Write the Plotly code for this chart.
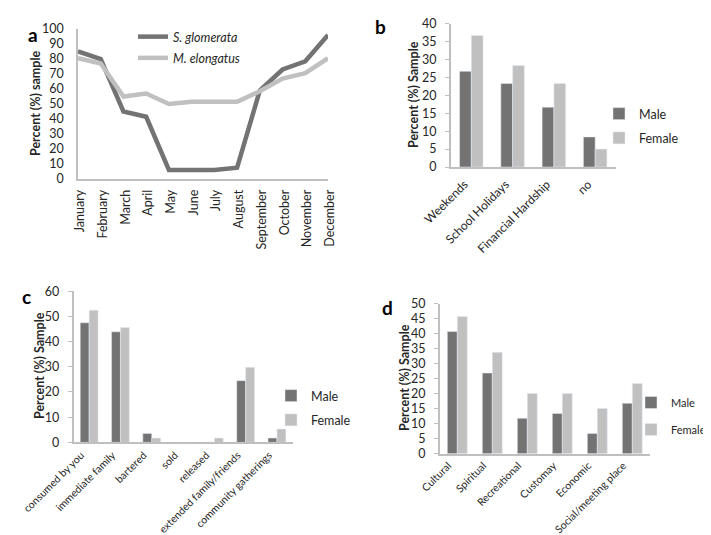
import plotly.graph_objects as go

W, H = 711, 535

# ---- data ----
months = ["January", "February", "March", "April", "May", "June", "July",
          "August", "September", "October", "November", "December"]
s_glomerata = [85, 80, 45, 41.5, 6, 6, 6, 7.5, 59, 73, 78.5, 96]
m_elongatus = [80.5, 77, 55, 57, 50, 51.5, 51.5, 51.5, 58.5, 67, 70.5, 80.5]

b_cats = ["Weekends", "School Holidays", "Financial Hardship", "no"]
b_male = [26.7, 23.3, 16.7, 8.4]
b_female = [36.7, 28.3, 23.3, 5.0]

c_cats = ["consumed by you", "immediate family", "bartered", "sold", "released",
          "extended family/friends", "community gatherings"]
c_male = [47.5, 43.9, 3.5, 0, 0, 24.5, 1.7]
c_female = [52.5, 45.6, 1.7, 0, 1.7, 29.8, 5.3]

d_cats = ["Cultural", "Spiritual", "Recreational", "Customay", "Economic",
          "Social/meeting place"]
d_male = [40.7, 26.9, 11.8, 13.4, 6.7, 16.8]
d_female = [45.7, 33.8, 20.1, 20.1, 15.1, 23.4]

DARK = "#737373"
LIGHT = "#c0c0c0"
AXIS = "#bfbfbf"
TXT = "#262626"
FONT = "Lato"


def px_x(a, b):
    return [a / W, b / W]


def px_y(top, bottom):
    return [1 - bottom / H, 1 - top / H]


fig = go.Figure()

# panel a lines
fig.add_trace(go.Scatter(x=months, y=s_glomerata, mode="lines", name="<i>S. glomerata</i>",
                         line=dict(color=DARK, width=4.5), xaxis="x", yaxis="y",
                         legend="legend", legendgroup="a1"))
fig.add_trace(go.Scatter(x=months, y=m_elongatus, mode="lines", name="<i>M. elongatus</i>",
                         line=dict(color=LIGHT, width=4.5), xaxis="x", yaxis="y",
                         legend="legend", legendgroup="a2"))

# panel b
fig.add_trace(go.Bar(x=b_cats, y=b_male, name="Male", marker_color=DARK, xaxis="x2", yaxis="y2",
                     legend="legend2", legendgroup="b1"))
fig.add_trace(go.Bar(x=b_cats, y=b_female, name="Female", marker_color=LIGHT, xaxis="x2", yaxis="y2",
                     legend="legend2", legendgroup="b2"))
# panel c
fig.add_trace(go.Bar(x=c_cats, y=c_male, name="Male", marker_color=DARK, xaxis="x3", yaxis="y3",
                     legend="legend3", legendgroup="c1"))
fig.add_trace(go.Bar(x=c_cats, y=c_female, name="Female", marker_color=LIGHT, xaxis="x3", yaxis="y3",
                     legend="legend3", legendgroup="c2"))
# panel d
fig.add_trace(go.Bar(x=d_cats, y=d_male, name="Male", marker_color=DARK, xaxis="x4", yaxis="y4",
                     legend="legend4", legendgroup="d1"))
fig.add_trace(go.Bar(x=d_cats, y=d_female, name="Female", marker_color=LIGHT, xaxis="x4", yaxis="y4",
                     legend="legend4", legendgroup="d2"))

ytickfont = dict(family=FONT, size=12.5, color=TXT)


def xax(dom, anchor, angle, size, shift, standoff):
    return dict(domain=dom, anchor=anchor, showline=True, linecolor=AXIS, linewidth=1.5,
                showgrid=False, zeroline=False, ticks="", tickangle=angle,
                ticklabelstandoff=standoff, ticklabelshift=shift, automargin=False,
                tickfont=dict(family=FONT, size=size, color=TXT), type="category",
                fixedrange=True)


def yax(dom, anchor, rng, dtick, ticks):
    return dict(domain=dom, anchor=anchor, range=rng, dtick=dtick, showline=True,
                linecolor=AXIS, linewidth=1.5, showgrid=False, zeroline=False,
                ticks=ticks, ticklen=4, tickcolor=AXIS, tickwidth=1,
                ticklabelstandoff=6 if ticks else 10, automargin=False,
                tickfont=ytickfont, fixedrange=True)


leg_font = dict(family=FONT, size=12.5, color=TXT)

fig.update_layout(
    width=W, height=H, margin=dict(l=0, r=0, t=0, b=0, autoexpand=False),
    paper_bgcolor="white", plot_bgcolor="white",
    font=dict(family=FONT, color=TXT),
    barmode="group", bargap=0.43, bargroupgap=0,
    xaxis=xax(px_x(70, 320), "y", -90, 12.5, 2, 4),
    yaxis=yax(px_y(21, 171), "x", [0, 100], 10, ""),
    xaxis2=xax(px_x(442.7, 607.8), "y2", -45, 12, -7, 4),
    yaxis2=yax(px_y(15.7, 159), "x2", [0, 40], 5, "outside"),
    xaxis3=xax(px_x(65.5, 284.6), "y3", -45, 10.5, -8, 1),
    yaxis3=yax(px_y(283.3, 434.3), "x3", [0, 60], 10, "outside"),
    xaxis4=xax(px_x(431.8, 641.8), "y4", -45, 10.5, -9, 0),
    yaxis4=yax(px_y(295.7, 445.7), "x4", [0, 50], 5, "outside"),
    legend=dict(x=125 / W, y=1 - 14 / H, xanchor="left", yanchor="top", bgcolor="rgba(0,0,0,0)",
                font=leg_font, traceorder="grouped", tracegroupgap=2, itemwidth=30),
    legend2=dict(x=591 / W, y=1 - 91 / H, xanchor="left", yanchor="top", bgcolor="rgba(0,0,0,0)",
                 font=leg_font, traceorder="grouped", tracegroupgap=5, itemwidth=30),
    legend3=dict(x=263 / W, y=1 - 373 / H, xanchor="left", yanchor="top", bgcolor="rgba(0,0,0,0)",
                 font=leg_font, traceorder="grouped", tracegroupgap=5, itemwidth=30),
    legend4=dict(x=623 / W, y=1 - 380 / H, xanchor="left", yanchor="top", bgcolor="rgba(0,0,0,0)",
                 font=dict(family=FONT, size=11, color=TXT), traceorder="grouped",
                 tracegroupgap=8, itemwidth=30),
)

ann = []
for lab, x, y in [("a", 25, 26), ("b", 372, 19), ("c", 18, 288), ("d", 379, 299)]:
    ann.append(dict(text="<b>%s</b>" % lab, x=x / W, y=1 - y / H, xref="paper", yref="paper",
                    showarrow=False, font=dict(family=FONT, size=19, color="black"),
                    xanchor="center", yanchor="middle"))
for t, x, y in [("Percent (%) sample", 28, 96), ("Percent (%) Sample", 406, 87),
                ("Percent (%) Sample", 31, 358), ("Percent (%) Sample", 396, 370)]:
    ann.append(dict(text="<b>%s</b>" % t, x=x / W, y=1 - y / H, xref="paper", yref="paper",
                    showarrow=False, textangle=-90, font=dict(family=FONT, size=12.5, color=TXT),
                    xanchor="center", yanchor="middle"))
fig.update_layout(annotations=ann)

fig.write_html("out.html")
